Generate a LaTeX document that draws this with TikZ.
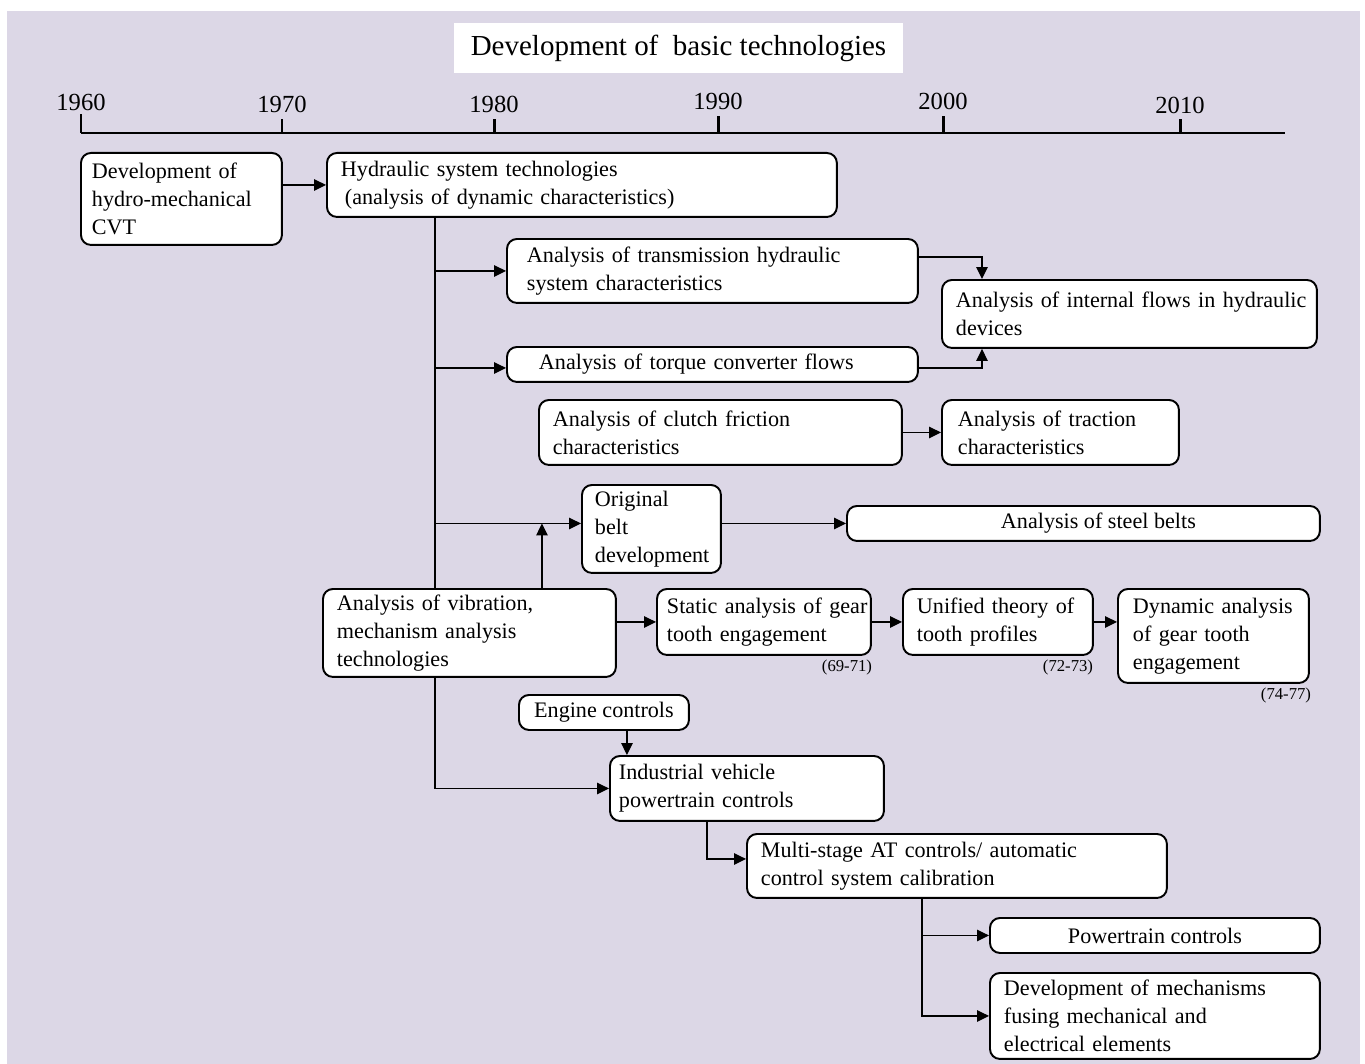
\documentclass[tikz,border=0pt]{standalone}
\usepackage{fontspec}
\setmainfont{Liberation Serif}
\usetikzlibrary{arrows.meta}
\begin{document}
\begin{tikzpicture}[x=0.02cm, y=-0.02cm,
    box/.style={draw, line width=1.1pt, rounded corners=0.2cm, fill=white, anchor=north west,
        align=left, inner ysep=1pt, font=\fontsize{12.6}{15.9}\selectfont},
    cbox/.style={box, align=center},
    link/.style={line width=0.75pt},
    arr/.style={link, -{Triangle[length=2.4mm, width=2.3mm]}},
    year/.style={font=\fontsize{14}{16}\selectfont, inner sep=0pt},
    ref/.style={font=\fontsize{9.5}{11}\selectfont, inner sep=0pt}]
            \definecolor{bg}{HTML}{DCD7E6}
            \useasboundingbox (0,0) rectangle (1365,1064);
            \fill[bg] (7,11) rectangle (1360,1064);
            \node[fill=white, minimum width=8.98cm, minimum height=1.0cm, font=\fontsize{16.5}{20}\selectfont] (title) at (678.5,48) {Development of\ \ basic technologies};
            \draw[line width=1.7pt] (81,133) -- (1285,133);
            \foreach \yr/\xx/\yy/\tk in {1960/81/102/114, 1970/282/104/119, 1980/494/104/119, 1990/718/101/116, 2000/943/101/116, 2010/1180/105/119} {
                \draw[line width=1.7pt] (\xx,133) -- (\xx,\tk);
                \node[year] (y\yr) at (\xx,\yy) {\yr};
            }
            \node[box, text width=3.58cm, inner xsep=0.22cm, minimum height=1.84cm] (cvt) at (80,152) {Development of\\hydro-mechanical\\CVT};
            \node[box, text width=9.64cm, inner xsep=0.28cm, minimum height=1.28cm] (hyd) at (326,152) {Hydraulic system technologies\\\hspace*{0.08cm}(analysis of dynamic characteristics)};
            \node[box, text width=7.42cm, inner xsep=0.40cm, minimum height=1.28cm] (trans) at (506,238) {Analysis of transmission hydraulic\\system characteristics};
            \node[box, text width=6.94cm, inner xsep=0.28cm, minimum height=1.36cm] (flows) at (941,279) {\mbox{Analysis of internal flows in hydraulic}\\devices};
            \node[box, text width=6.94cm, inner xsep=0.64cm, minimum height=0.70cm] (torque) at (506,346) {Analysis of torque converter flows};
            \node[box, text width=6.70cm, inner xsep=0.28cm, minimum height=1.30cm] (clutch) at (538,399) {Analysis of clutch friction\\characteristics};
            \node[box, text width=4.10cm, inner xsep=0.32cm, minimum height=1.30cm] (traction) at (941,399) {Analysis of traction\\characteristics};
            \node[box, text width=2.26cm, inner xsep=0.26cm, minimum height=1.76cm] (belt) at (581,484) {Original\\belt\\\mbox{development}};
            \node[cbox, minimum width=9.46cm, minimum height=0.70cm] (steel) at (846,505) {\hspace*{0.6cm}Analysis of steel belts};
            \node[box, text width=5.30cm, inner xsep=0.28cm, minimum height=1.76cm] (vib) at (322,588) {Analysis of vibration,\\mechanism analysis\\technologies};
            \node[box, text width=3.88cm, inner xsep=0.20cm, minimum height=1.32cm] (static) at (656,588) {\mbox{Static analysis of gear}\\tooth engagement};
            \node[box, text width=3.24cm, inner xsep=0.28cm, minimum height=1.32cm] (unified) at (902,588) {\mbox{Unified theory of}\\tooth profiles};
            \node[box, text width=3.22cm, inner xsep=0.30cm, minimum height=1.88cm] (dynamic) at (1117,588) {\mbox{Dynamic analysis}\\of gear tooth\\engagement};
            \node[ref] (r6971) at (847,667) {(69-71)};
            \node[ref] (r7273) at (1068,667) {(72-73)};
            \node[ref] (r7477) at (1286,695) {(74-77)};
            \node[cbox, minimum width=3.40cm, minimum height=0.70cm] (engine) at (518,694) {Engine controls};
            \node[box, text width=5.12cm, inner xsep=0.18cm, minimum height=1.30cm] (indus) at (609,755) {Industrial vehicle\\powertrain controls};
            \node[box, text width=7.84cm, inner xsep=0.28cm, minimum height=1.28cm] (multi) at (746,833) {Multi-stage AT controls/ automatic\\control system calibration};
            \node[cbox, minimum width=6.60cm, minimum height=0.70cm] (ptrain) at (989,917) {Powertrain controls};
            \node[box, text width=6.04cm, inner xsep=0.28cm, minimum height=1.72cm] (fusion) at (989,972) {Development of mechanisms\\fusing mechanical and\\electrical elements};
            \coordinate (trunk) at ([xshift=2.18cm]hyd.south west);
            \coordinate (tq) at ([yshift=-0.07cm]torque.west);
            \coordinate (beltin) at ([yshift=0.11cm]belt.west);
            \coordinate (rise) at ([xshift=4.4cm]vib.north west);
            \coordinate (eng) at ([xshift=0.46cm]engine.south);
            \coordinate (idrop) at ([xshift=1.96cm]indus.south west);
            \coordinate (split) at ([xshift=3.52cm]multi.south west);
            \draw[arr] (cvt.east |- hyd.west) -- (hyd.west);
            \draw[link] (trunk) -- (trunk |- vib.north);
            \draw[arr] (trunk |- vib.south) |- (indus.west);
            \draw[arr] (trunk |- trans.west) -- (trans.west);
            \draw[arr] (trunk |- tq) -- (tq);
            \draw[arr] (trunk |- beltin) -- (beltin);
            \draw[arr] (rise) -- (rise |- beltin);
            \draw[arr] (belt.east |- steel.west) -- (steel.west);
            \draw[arr] ([yshift=0.28cm]trans.east) -| ([xshift=0.82cm]flows.north west);
            \draw[arr] ([yshift=-0.07cm]torque.east) -| ([xshift=0.82cm]flows.south west);
            \draw[arr] (clutch.east) -- (traction.west);
            \draw[arr] (vib.east |- static.west) -- (static.west);
            \draw[arr] (static.east) -- (unified.west);
            \draw[arr] (unified.east) -- (unified.east -| dynamic.west);
            \draw[arr] (eng) -- (eng |- indus.north);
            \draw[arr] (idrop) |- ([yshift=0.14cm]multi.west);
            \draw[arr] (split) |- (ptrain.west);
            \draw[arr] (split) |- (fusion.west);
        \end{tikzpicture}
\end{document}
